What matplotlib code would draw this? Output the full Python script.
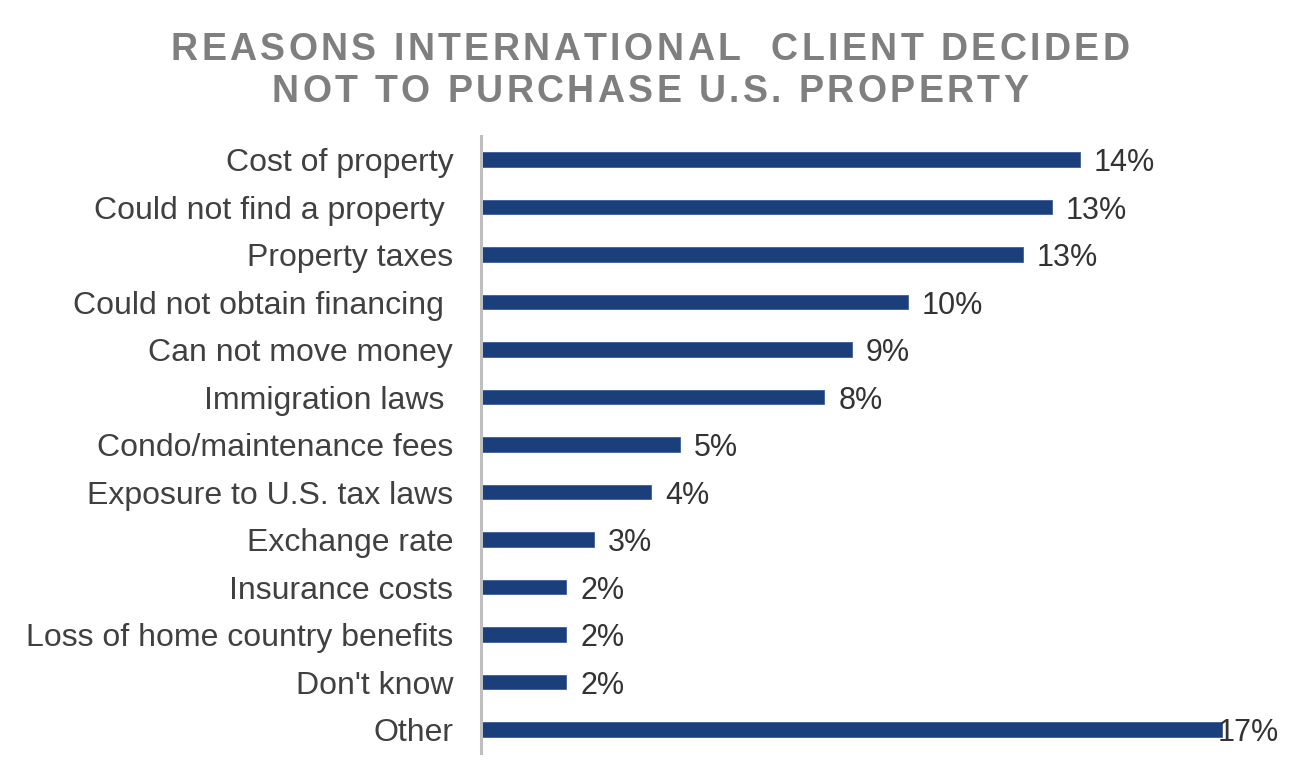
import matplotlib
matplotlib.use("Agg")
import matplotlib.pyplot as plt
from matplotlib.font_manager import FontProperties

# data (bar lengths in %, labels as printed)
categories = [
    "Cost of property",
    "Could not find a property ",
    "Property taxes",
    "Could not obtain financing ",
    "Can not move money",
    "Immigration laws ",
    "Condo/maintenance fees",
    "Exposure to U.S. tax laws",
    "Exchange rate",
    "Insurance costs",
    "Loss of home country benefits",
    "Don't know",
    "Other",
]
values = [13.93, 13.28, 12.6, 9.93, 8.63, 7.98, 4.63, 3.95, 2.63, 1.98, 1.98, 1.98, 17.23]
value_labels = ["14%", "13%", "13%", "10%", "9%", "8%", "5%", "4%", "3%", "2%", "2%", "2%", "17%"]
title_lines = ["REASONS INTERNATIONAL  CLIENT DECIDED", "NOT TO PURCHASE U.S. PROPERTY"]

BAR_COLOR = "#1b3f7a"
TEXT_COLOR = "#404040"
TITLE_COLOR = "#7f7f7f"

plt.rcParams["font.family"] = ["Liberation Sans", "DejaVu Sans"]

W, H = 1300, 761
fig = plt.figure(figsize=(W / 100, H / 100), dpi=100)
ax = fig.add_axes([0.37, 0.0099, 0.5954, 0.8114])

ypos = list(range(len(categories)))
ax.barh(ypos, values, height=0.305, color=BAR_COLOR, edgecolor="#3a5f9a", linewidth=0.6)

ax.set_ylim(len(categories) - 0.5, -0.5)
ax.set_xlim(0, 18)
ax.set_yticks(ypos)
ax.set_yticklabels(categories, fontsize=23, color=TEXT_COLOR)
ax.tick_params(axis="y", length=0, pad=20)
ax.set_xticks([])

for side in ["top", "right", "bottom"]:
    ax.spines[side].set_visible(False)
ax.spines["left"].set_color("#bfbfbf")
ax.spines["left"].set_linewidth(2.2)

for i, (v, lab) in enumerate(zip(values, value_labels)):
    # the last label sits slightly over the bar end in the original
    off = -4 if i == len(values) - 1 else 14
    ax.annotate(lab, xy=(v, i), xytext=(off, 0), textcoords="offset pixels",
                va="center_baseline", ha="left", fontsize=22, color="#333333")

# title is letter-spaced, so lay it out one character at a time
fp = FontProperties(family="Liberation Sans", weight="bold", size=27)
renderer = fig.canvas.get_renderer()


def advance(c):
    base = renderer.get_text_width_height_descent("HH", fp, ismath=False)[0]
    return renderer.get_text_width_height_descent("H" + c + "H", fp, ismath=False)[0] - base


spacing = 3.4
for line, baseline_px in zip(title_lines, [59.5, 102.3]):
    widths = [advance(c) for c in line]
    total = sum(widths) + spacing * (len(line) - 1)
    x = (W - total) / 2
    for c, w in zip(line, widths):
        if c != " ":
            fig.text(x / W, 1 - baseline_px / H, c, ha="left", va="baseline",
                     fontproperties=fp, color=TITLE_COLOR)
        x += w + spacing

fig.savefig("out.png", dpi=100)
